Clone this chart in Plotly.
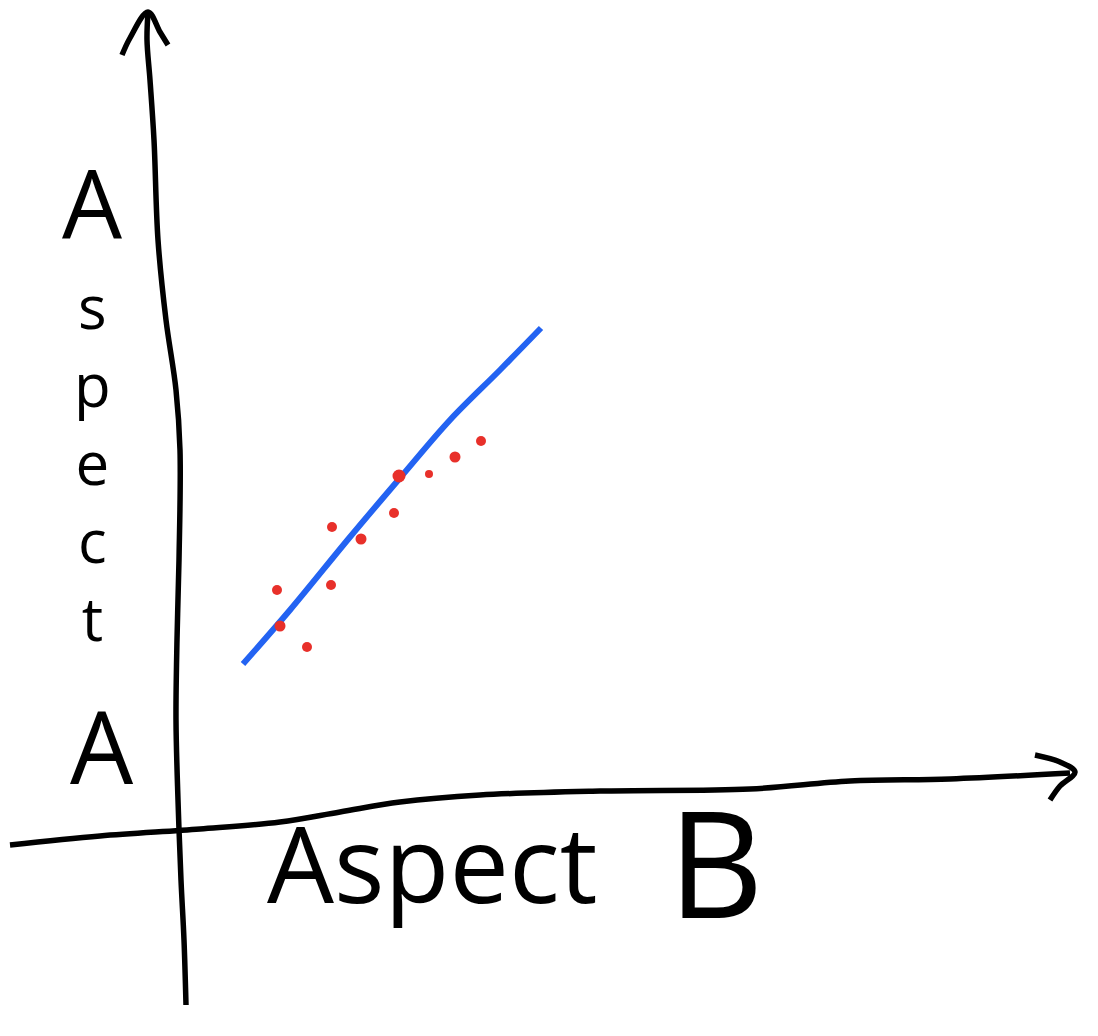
import plotly.graph_objects as go

# pixel-like coordinates of the sketch (y grows downward)
dots_x = [277, 280, 307, 332, 331, 361, 394, 399, 429, 455, 481]
dots_y = [590, 626, 647, 527, 585, 539, 513, 476, 474, 457, 441]
dots_size = [10, 11, 10, 10, 10, 11, 10, 13, 8, 11, 10]

fit_x = [243, 290, 350, 400, 450, 500, 541]
fit_y = [664, 610, 537, 478, 420, 370, 328]

yaxis_x = [186, 184, 181, 178, 176, 177, 179, 180, 176, 166, 158, 154, 150, 147, 148]
yaxis_y = [1005, 940, 880, 800, 720, 640, 560, 450, 390, 320, 240, 140, 80, 40, 12]
yarrow_x = [122, 130, 148, 160, 168]
yarrow_y = [55, 38, 12, 32, 45]

xaxis_x = [10, 100, 200, 280, 340, 400, 480, 600, 750, 850, 950, 1070]
xaxis_y = [845, 836, 829, 822, 812, 802, 795, 791, 789, 781, 779, 773]
xarrow_x = [1035, 1060, 1075, 1060, 1050]
xarrow_y = [755, 762, 772, 786, 800]

top_letter = "A"
vert_rest = "s<br>p<br>e<br>c<br>t"
bottom_label = "Aspect"
corner_label = "A"
right_label = "B"

INK = "black"
font = "Open Sans"

fig = go.Figure()
for xs, ys in [(yaxis_x, yaxis_y), (yarrow_x, yarrow_y), (xaxis_x, xaxis_y), (xarrow_x, xarrow_y)]:
    fig.add_trace(go.Scatter(x=xs, y=ys, mode="lines",
                             line=dict(color=INK, width=5.5, shape="spline"),
                             hoverinfo="skip"))

fig.add_trace(go.Scatter(x=fit_x, y=fit_y, mode="lines",
                         line=dict(color="#2363F2", width=6, shape="spline")))
fig.add_trace(go.Scatter(x=dots_x, y=dots_y, mode="markers",
                         marker=dict(color="#E8302A", size=dots_size, opacity=1,
                                     line=dict(width=0))))

fig.add_annotation(x=92, y=202, text=top_letter, showarrow=False,
                   font=dict(family=font, size=95, color=INK))
fig.add_annotation(x=92, y=462, text=vert_rest, showarrow=False,
                   font=dict(family=font, size=60, color=INK))
fig.add_annotation(x=102, y=745, text=corner_label, showarrow=False,
                   font=dict(family=font, size=100, color=INK))
fig.add_annotation(x=432, y=862, text=bottom_label, showarrow=False,
                   font=dict(family=font, size=106, color=INK))
fig.add_annotation(x=716, y=860, text=right_label, showarrow=False,
                   font=dict(family=font, size=148, color=INK))

# page body has an 8px margin, so shift the ranges to keep pixel coordinates
fig.update_layout(
    width=1098, height=1036,
    margin=dict(l=0, r=0, t=0, b=0),
    showlegend=False,
    plot_bgcolor="white", paper_bgcolor="white",
    xaxis=dict(range=[8, 1106], visible=False),
    yaxis=dict(range=[1044, 8], visible=False),
)
fig.write_html("out.html")
